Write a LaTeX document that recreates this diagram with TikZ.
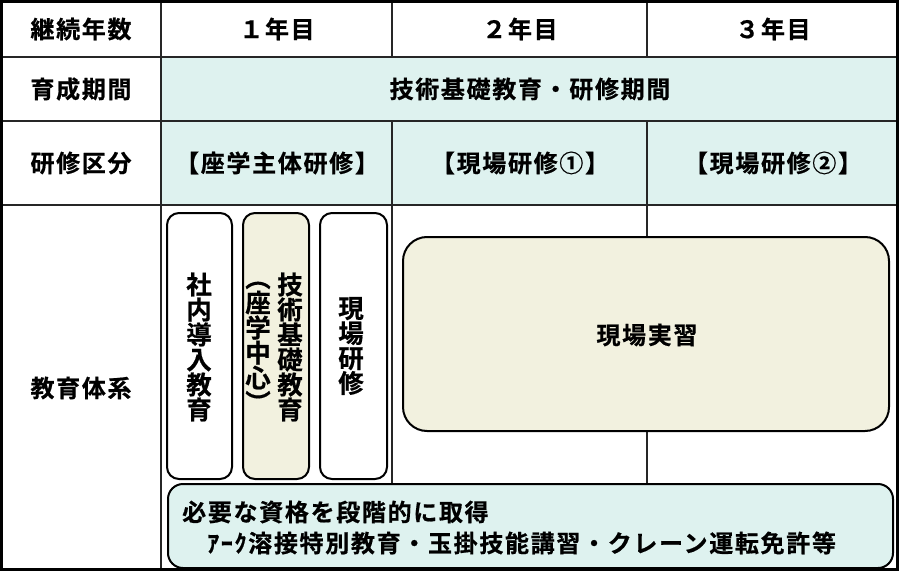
\documentclass[tikz,border=0pt]{standalone}
\usepackage{fontspec}
\setmainfont{Noto Sans CJK JP}[UprightFont=* Bold, FakeBold=0.6]
\newfontfamily\hfont{Noto Sans CJK JP}[UprightFont=* Bold, LetterSpace=7, FakeBold=0.6]
\definecolor{cy}{HTML}{DEF2EF}
\definecolor{bg}{HTML}{F2F1DF}
\begin{document}
\begin{tikzpicture}[x=1pt,y=-1pt,
  lbl/.style={font={\hfont\fontsize{24}{25}\selectfont}, inner sep=0pt},
  gridline/.style={line width=1.5pt, draw=black!85},
  rbox/.style={draw=black, line width=2pt, rounded corners=12pt, inner sep=0pt},
  vtext/.style={font={\fontsize{25.5}{25}\selectfont}, align=center, inner sep=0pt}]
\useasboundingbox (0,0) rectangle (901,572);
\fill[white] (0,0) rectangle (901,572);
% fills
\fill[cy] (161,57) rectangle (897.5,205);
% grid lines
\draw[gridline] (0,57) -- (897.5,57);
\draw[gridline] (0,121) -- (897.5,121);
\draw[gridline] (0,205) -- (897.5,205);
\draw[gridline] (161,0) -- (161,570);
\draw[gridline] (392,0) -- (392,57);
\draw[gridline] (647,0) -- (647,57);
\draw[gridline] (392,121) -- (392,490);
\draw[gridline] (647,121) -- (647,490);
% header texts
\node[lbl] (h0) at (81,29) {継続年数};
\node[lbl] (h1) at (277,29) {１年目};
\node[lbl] (h2) at (520,29) {２年目};
\node[lbl] (h3) at (773,29) {３年目};
\node[lbl] (r2) at (81,89) {育成期間};
\node[lbl] (r2t) at (530,89) {技術基礎教育・研修期間};
\node[lbl] (r3) at (81,163) {研修区分};
\node[lbl] (r3a) at (277,163) {【座学主体研修】};
\node[lbl] (r3b) at (520,163) {【現場研修①】};
\node[lbl] (r3c) at (773,163) {【現場研修②】};
\node[lbl] (r4) at (81,388) {教育体系};
% small vertical boxes
\node[rbox, fill=white, minimum width=65pt, minimum height=266pt] (b1) at (199.5,346) {};
\node[vtext] (b1t) at (199,347) {社\\内\\導\\入\\教\\育};
\node[rbox, fill=bg, minimum width=66pt, minimum height=266pt] (b2) at (276,346) {};
\node[vtext] (b2t) at (290,347) {技\\術\\基\\礎\\教\\育};
\node[vtext] (b2s) at (258,347) {︵\\座\\学\\中\\心\\︶};
\node[rbox, fill=white, minimum width=67pt, minimum height=266pt] (b3) at (353.5,346) {};
\node[vtext] (b3t) at (351,346) {現\\場\\研\\修};
% big box
\node[rbox, rounded corners=24pt, fill=bg, minimum width=486pt, minimum height=194pt] (big) at (646,334) {};
\node[lbl] (bigt) at (647,335) {現場実習};
% bottom box
\node[rbox, rounded corners=15pt, fill=cy, minimum width=725pt, minimum height=84pt] (bot) at (530.5,526) {};
\node[lbl, anchor=west] (bot1) at (182,512) {必要な資格を段階的に取得};
\node[lbl, anchor=west] (bot2) at (207,543) {ｱｰｸ溶接特別教育・玉掛技能講習・クレーン運転免許等};
% outer border
\draw[line width=3pt] (1.5,1.5) rectangle (897.5,569.5);
\end{tikzpicture}
\end{document}
